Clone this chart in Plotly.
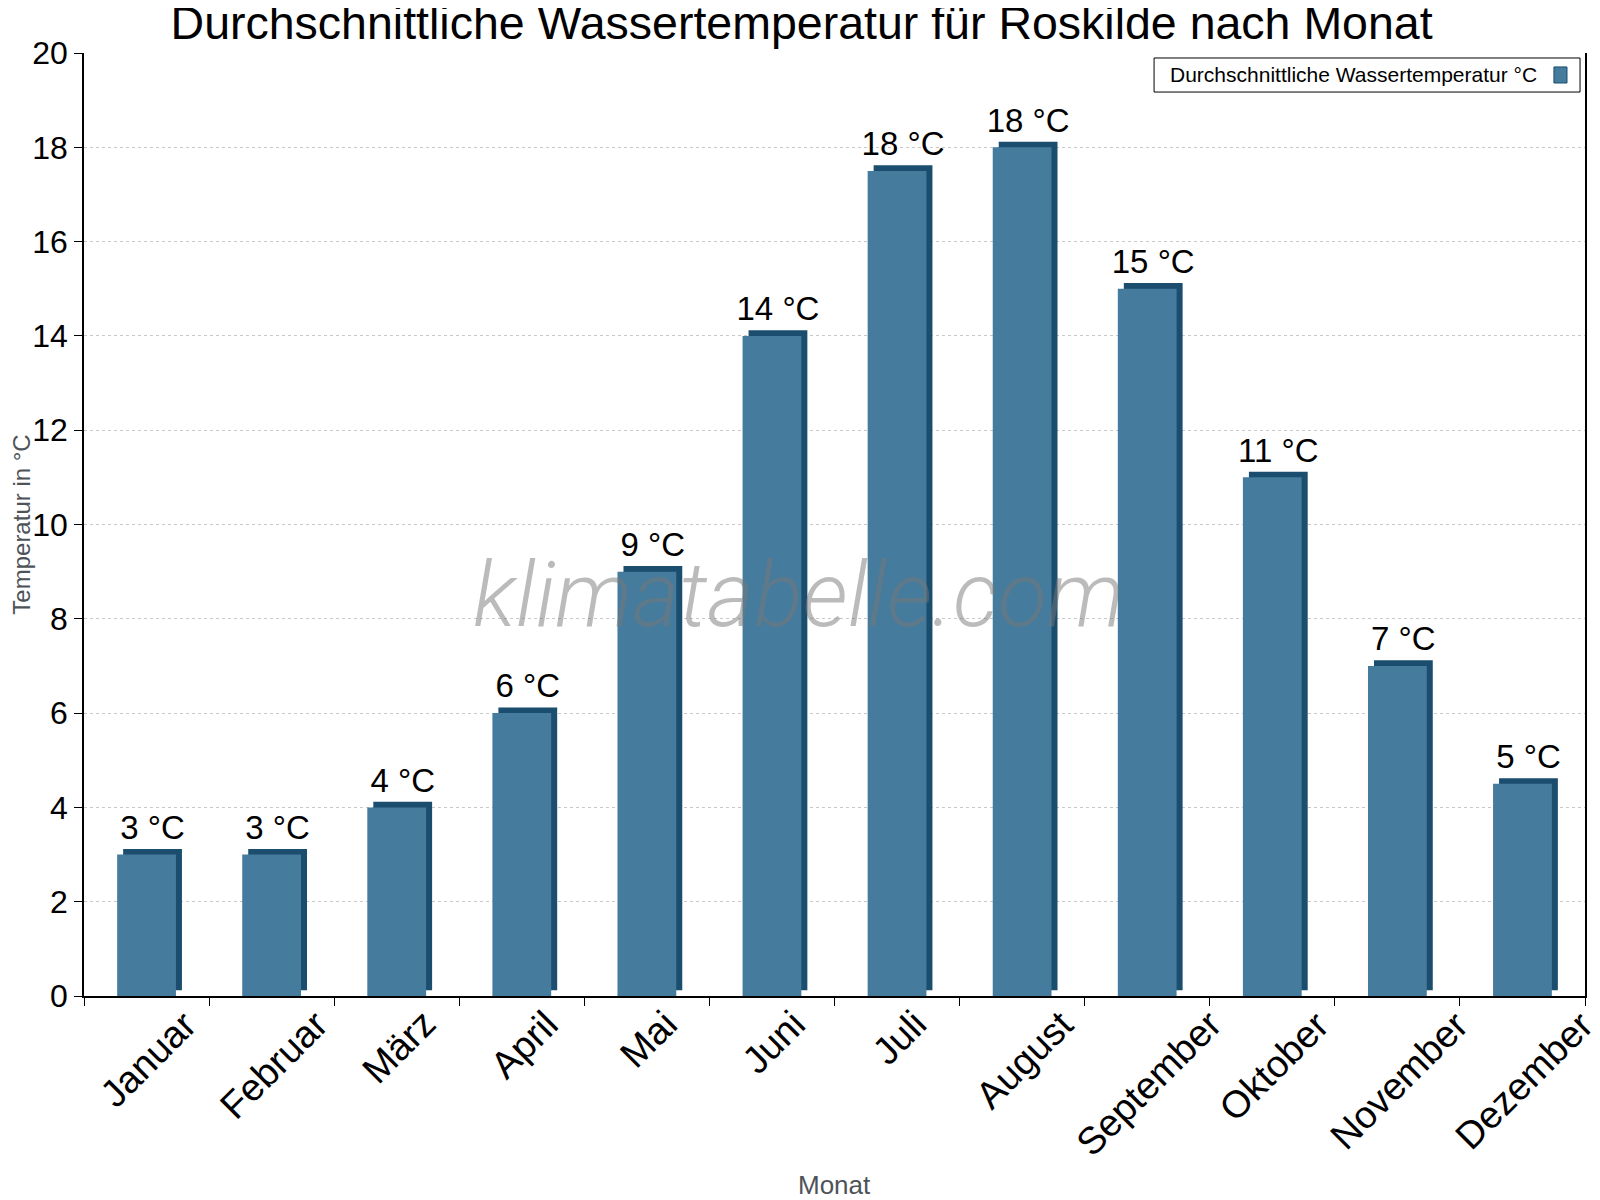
import math
import plotly.graph_objects as go

months = ["Januar", "Februar", "März", "April", "Mai", "Juni",
          "Juli", "August", "September", "Oktober", "November", "Dezember"]
water_temp = [3, 3, 4, 6, 9, 14, 17.5, 18, 15, 11, 7, 4.5]

front_col = "#457b9d"
side_col = "#1a4d6e"
bar_w = 0.47
dx = 0.048   # depth of the 3d side, in category units
dy = 0.12    # depth of the 3d top, in y units

labels = ["{} °C".format(math.floor(v + 0.5)) for v in water_temp]

fig = go.Figure()
# dark "depth" block behind each bar -> gives the top and right face
fig.add_trace(go.Bar(x=months, y=water_temp, base=dy, width=bar_w,
                     offset=-bar_w / 2 + dx, marker_color=side_col,
                     marker_line_width=0, text=labels, textposition="outside",
                     constraintext="none",
                     textfont=dict(size=33, color="black"),
                     cliponaxis=False, showlegend=False, hoverinfo="skip"))
fig.add_trace(go.Bar(x=months, y=water_temp, width=bar_w,
                     marker_color=front_col, marker_line_width=0,
                     name="Durchschnittliche Wassertemperatur °C",
                     showlegend=False))

# month labels: rotated, box centred under each category
for m in months:
    fig.add_annotation(text=m, x=m, xref="x", y=0, yref="paper",
                       xanchor="center", yanchor="top", textangle=-45,
                       yshift=-4, xshift=2, showarrow=False,
                       font=dict(size=38, color="black"))
fig.add_annotation(text="Monat", xref="paper", yref="paper", x=0.5, y=-0.2004,
                   xanchor="center", yanchor="middle", showarrow=False,
                   font=dict(size=26, color="#4d5359"))

# watermark
fig.add_annotation(text="klimatabelle.com", xref="paper", yref="paper",
                   x=0.476, y=0.425, xanchor="center", yanchor="middle",
                   showarrow=False,
                   font=dict(family="Roboto", size=90, color="rgba(120,120,120,0.5)",
                             style="italic", weight=300))

# legend box (swatch sits on the right like in the original)
fig.add_shape(type="rect", xref="paper", yref="paper",
              x0=0.7129, x1=0.9967, y0=0.9586, y1=0.9947,
              fillcolor="white", line=dict(color="black", width=1))
fig.add_annotation(text="Durchschnittliche Wassertemperatur °C", xref="paper", yref="paper",
                   x=0.7222, y=0.9767, xanchor="left", yanchor="middle",
                   showarrow=False, font=dict(size=21, color="black"))
fig.add_shape(type="rect", xref="paper", yref="paper",
              x0=0.9793, x1=0.9880, y0=0.9682, y1=0.9852,
              fillcolor=front_col, line=dict(color=side_col, width=1))

fig.update_layout(
    width=1592, height=1192,
    barmode="overlay",
    plot_bgcolor="white", paper_bgcolor="white",
    font=dict(family="Liberation Sans, Arial, sans-serif", color="black"),
    title=dict(text="Durchschnittliche Wassertemperatur für Roskilde nach Monat",
               x=0.4985, xanchor="center", y=0.9879, yanchor="middle",
               font=dict(size=46.5, color="black")),
    margin=dict(l=76, r=15, t=45, b=204, autoexpand=False),
    showlegend=False,
)
fig.update_xaxes(showticklabels=False, range=[-0.5, len(months) - 0.5],
                 showline=True, linecolor="black", linewidth=1.5,
                 ticks="outside", tickson="boundaries", ticklen=8, tickcolor="black",
                 showgrid=False, automargin=False)
fig.update_yaxes(title=dict(text="Temperatur in °C", font=dict(size=24, color="#4d5359"), standoff=2),
                 range=[0, 20], dtick=2, tickfont=dict(size=32, color="black"),
                 showline=True, linecolor="black", linewidth=1.5, mirror=True,
                 ticks="outside", ticklen=8, tickcolor="black",
                 showgrid=True, gridcolor="#c8c8c8", griddash="dot", gridwidth=1,
                 zeroline=False, automargin=False)

fig.write_html("out.html")
